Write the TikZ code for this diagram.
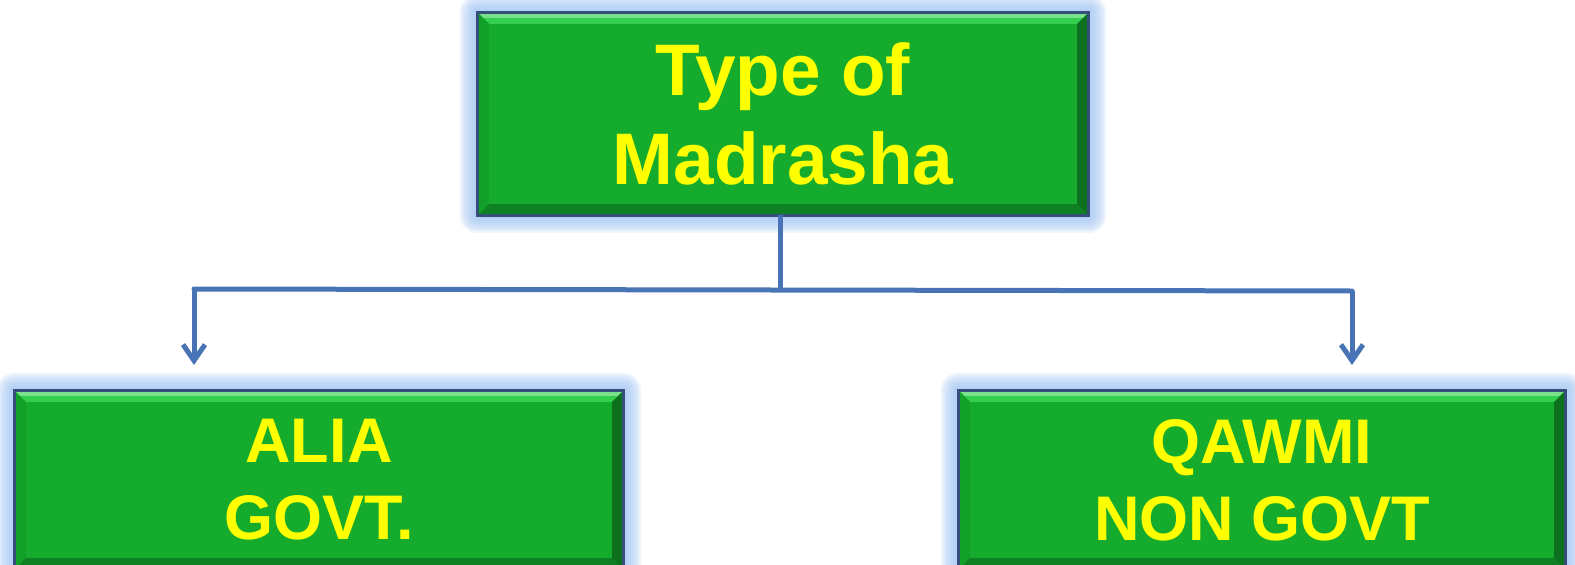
\documentclass[tikz,border=0pt]{standalone}
\usepackage{fontspec}
\setmainfont{Liberation Sans}
\usetikzlibrary{arrows.meta,backgrounds,calc}
\definecolor{boxgreen}{HTML}{15AC2E}
\definecolor{bevtopc}{HTML}{34CF4E}
\definecolor{bevleftc}{HTML}{12A02A}
\definecolor{bevbotc}{HTML}{0F8024}
\definecolor{bevrightc}{HTML}{0D701F}
\definecolor{borderc}{HTML}{34507A}
\definecolor{glowc}{HTML}{A4C6F2}
\definecolor{linkc}{HTML}{4874B6}
\definecolor{txtc}{HTML}{FFFF00}
\tikzset{
  gbox/.style={fill=boxgreen, draw=none, inner sep=0pt, align=center,
    text=txtc, font=\bfseries},
  connline/.style={draw=linkc, line width=5pt},
  connarrow/.style={connline, -{Straight Barb[length=16pt,width=22pt]}}
}
\newcommand\bevelize[1]{%
  \fill[bevtopc] (#1.north west) -- (#1.north east) -- ($(#1.north east)+(-11,11)$) -- ($(#1.north west)+(11,11)$) -- cycle;
  \fill[white!35!bevtopc] (#1.north west) -- (#1.north east) -- ($(#1.north east)+(-5,5)$) -- ($(#1.north west)+(5,5)$) -- cycle;
  \fill[bevleftc] (#1.north west) -- ($(#1.north west)+(11,11)$) -- ($(#1.south west)+(11,-11)$) -- (#1.south west) -- cycle;
  \fill[bevbotc] (#1.south west) -- ($(#1.south west)+(11,-11)$) -- ($(#1.south east)+(-11,-11)$) -- (#1.south east) -- cycle;
  \fill[bevrightc] (#1.north east) -- ($(#1.north east)+(-11,11)$) -- ($(#1.south east)+(-11,-11)$) -- (#1.south east) -- cycle;
  \draw[borderc, line width=3pt] (#1.north west) rectangle (#1.south east);
  \begin{scope}[on background layer]
    \foreach \d in {18,16,...,2} {
      \fill[glowc, opacity=0.18, rounded corners=\d pt] ($(#1.north west)+(-\d,-\d)$) rectangle ($(#1.south east)+(\d,\d)$);
    }
  \end{scope}
}
\begin{document}
\begin{tikzpicture}[x=1pt,y=-1pt]
  \useasboundingbox (0,0) rectangle (1575,565);
  \clip (0,0) rectangle (1575,565);
  \node[gbox, minimum width=610pt, minimum height=202pt] (top) at (783,114) {};
  \node[gbox, minimum width=608pt, minimum height=178pt] (alia) at (319,480) {};
  \node[gbox, minimum width=606pt, minimum height=178pt] (qawmi) at (1262,480) {};
  \bevelize{top}
  \bevelize{alia}
  \bevelize{qawmi}
  \node[text=txtc, align=center, font=\bfseries\fontsize{73}{89}\selectfont] (toptxt) at (top.center) {Type of\\Madrasha};
  \node[text=txtc, align=center, font=\bfseries\fontsize{63}{77}\selectfont] (aliatxt) at (alia.center) {ALIA\\GOVT.};
  \node[text=txtc, align=center, font=\bfseries\fontsize{63}{77}\selectfont] (qawmitxt) at (qawmi.center) {QAWMI\\NON GOVT};
  % connectors
  \coordinate (stem) at (780,289);
  \coordinate (lc) at (194,289);
  \coordinate (rc) at (1352,291);
  \coordinate (lend) at (194,365);
  \coordinate (rend) at (1352,365);
  \draw[connline] (top.south -| stem) -- (stem);
  \draw[connline, line cap=round] (lc) -- (rc);
  \draw[connarrow] (lc) -- (lend);
  \draw[connarrow] (rc) -- (rend);
\end{tikzpicture}
\end{document}
